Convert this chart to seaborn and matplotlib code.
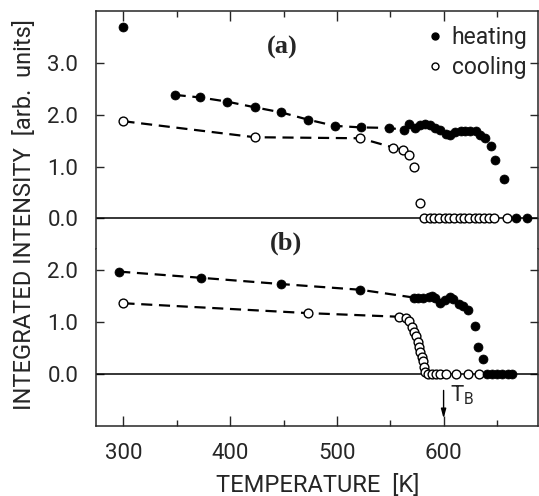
import matplotlib
matplotlib.use("Agg")
import matplotlib.pyplot as plt
from matplotlib.lines import Line2D
import seaborn as sns

# ---------------- data ----------------
# panel (a)
a_heat_T = [300, 348, 372, 397, 423, 448, 473, 498, 523, 549, 563, 568, 573, 578, 583,
            587, 592, 597, 602, 606, 611, 616, 620, 625, 630, 634, 639, 644, 648, 657, 668, 678]
a_heat_I = [3.70, 2.39, 2.34, 2.26, 2.15, 2.05, 1.91, 1.79, 1.76, 1.75, 1.71, 1.82, 1.75, 1.81, 1.82,
            1.80, 1.75, 1.71, 1.64, 1.61, 1.68, 1.70, 1.70, 1.70, 1.70, 1.62, 1.55, 1.40, 1.13, 0.76, 0.0, 0.0]
a_heat_line_T = [348, 372, 397, 423, 448, 473, 498, 523, 549, 563]
a_heat_line_I = [2.39, 2.34, 2.26, 2.15, 2.05, 1.91, 1.79, 1.76, 1.75, 1.71]

a_cool_T = [300, 423, 522, 553, 562, 568, 572, 578, 582, 587, 591, 596, 601, 605, 610,
            615, 619, 624, 629, 633, 638, 643, 647, 659]
a_cool_I = [1.88, 1.57, 1.55, 1.37, 1.32, 1.22, 1.00, 0.29, 0, 0, 0, 0, 0, 0, 0,
            0, 0, 0, 0, 0, 0, 0, 0, 0]
a_cool_line_T = [300, 423, 522, 553, 562]
a_cool_line_I = [1.88, 1.57, 1.55, 1.37, 1.32]

# panel (b)
b_heat_T = [296, 373, 448, 522, 572, 576, 581, 586, 589, 592, 597, 601, 606, 609, 614, 618,
            623, 629, 632, 637, 641, 645, 650, 655, 660, 664]
b_heat_I = [1.97, 1.85, 1.73, 1.62, 1.47, 1.47, 1.46, 1.49, 1.50, 1.46, 1.37, 1.42, 1.49, 1.44, 1.35, 1.31,
            1.23, 0.92, 0.51, 0.29, 0, 0, 0, 0, 0, 0]
b_heat_line_T = [296, 373, 448, 522, 572]
b_heat_line_I = [1.97, 1.85, 1.73, 1.62, 1.47]

b_cool_T = [300, 473, 558, 565, 568, 570, 572, 574, 576, 577, 578, 580, 581, 582, 583,
            585, 589, 593, 597, 602, 612, 623, 633]
b_cool_I = [1.36, 1.17, 1.10, 1.07, 1.01, 0.91, 0.81, 0.72, 0.62, 0.52, 0.43, 0.33, 0.24, 0.14, 0.04,
            0, 0, 0, 0, 0, 0, 0, 0]
b_cool_line_T = [300, 473, 558]
b_cool_line_I = [1.36, 1.17, 1.10]

x_ticks = [300, 400, 500, 600]
x_minor = [350, 450, 550, 650]
a_yticks = [0.0, 1.0, 2.0, 3.0]
b_yticks = [0.0, 1.0, 2.0]

# ---------------- style ----------------
sns.set_style("ticks")
plt.rcParams["font.family"] = ["Roboto", "DejaVu Sans"]
plt.rcParams["axes.linewidth"] = 1.1

fig = plt.figure(figsize=(5.39, 4.96), dpi=100)
W, H = 539.0, 496.0
left = 95.7 / W
width = (537.5 - 95.7) / W
split = 1 - 249.3 / H
top = 1 - 10.7 / H
bottom = 1 - 425.7 / H

ax_a = fig.add_axes([left, split, width, top - split])
ax_b = fig.add_axes([left, bottom, width, split - bottom])

XLIM = (274, 688)
dash = (0, (5.0, 3.0))


def draw(ax, hT, hI, hlT, hlI, cT, cI, clT, clI):
    sns.lineplot(x=hlT, y=hlI, ax=ax, color="k", lw=1.6, linestyle=dash, sort=False, zorder=2)
    sns.lineplot(x=clT, y=clI, ax=ax, color="k", lw=1.6, linestyle=dash, sort=False, zorder=2)
    ax.axhline(0, color="k", lw=1.1, zorder=1)
    sns.scatterplot(x=cT, y=cI, ax=ax, s=40, color="white", edgecolor="k", linewidth=1.0, zorder=3)
    sns.scatterplot(x=hT, y=hI, ax=ax, s=42, color="k", edgecolor="k", linewidth=0.5, zorder=4)
    ax.set_xlim(*XLIM)
    ax.set_xlabel("")
    ax.set_ylabel("")


draw(ax_a, a_heat_T, a_heat_I, a_heat_line_T, a_heat_line_I,
     a_cool_T, a_cool_I, a_cool_line_T, a_cool_line_I)
draw(ax_b, b_heat_T, b_heat_I, b_heat_line_T, b_heat_line_I,
     b_cool_T, b_cool_I, b_cool_line_T, b_cool_line_I)

ax_a.set_ylim(-0.6, 4.02)
ax_b.set_ylim(-1.0, 2.4)

for ax, yt in ((ax_a, a_yticks), (ax_b, b_yticks)):
    ax.set_xticks(x_ticks)
    ax.set_xticks(x_minor, minor=True)
    ax.set_yticks(yt)
    ax.set_yticklabels([f"{v:.1f}" for v in yt])
    ax.tick_params(axis="y", which="major", direction="in", left=True, right=True,
                   length=5.5, width=1.0, labelsize=16, pad=12.5)
    ax.tick_params(axis="x", which="major", direction="in", length=7, width=1.0,
                   labelsize=16, pad=12.5)
    ax.tick_params(axis="x", which="minor", direction="in", length=4, width=1.0)

ax_a.spines["bottom"].set_visible(False)
ax_a.tick_params(axis="x", which="both", top=True, bottom=False, labelbottom=False)
ax_b.spines["top"].set_visible(False)
ax_b.tick_params(axis="x", which="both", top=False, bottom=True, labelbottom=True)

# panel labels
ax_a.text(449, 3.31, "(a)", ha="center", va="center", fontsize=19,
          family="Liberation Serif", fontweight="bold")
ax_b.text(452, 2.52, "(b)", ha="center", va="center", fontsize=19,
          family="Liberation Serif", fontweight="bold")

# T_B marker
ax_b.annotate("", xy=(600, -0.86), xytext=(600, -0.32),
              arrowprops=dict(arrowstyle="-|>,head_length=0.55,head_width=0.15", color="k",
                              lw=1.0, shrinkA=0, shrinkB=0))
ax_b.text(606, -0.42, r"T$_\mathregular{B}$", ha="left", va="center", fontsize=16)

# legend
handles = [Line2D([], [], marker="o", ls="", color="k", markersize=5),
           Line2D([], [], marker="o", ls="", markerfacecolor="white", markeredgecolor="k",
                  markersize=5, markeredgewidth=1.0)]
ax_a.legend(handles, ["heating", "cooling"], loc="upper right", frameon=False,
            fontsize=16.5, handlelength=0.6, handletextpad=0.45, labelspacing=0.3,
            borderaxespad=0.0, bbox_to_anchor=(0.998, 0.975))

# axis labels
fig.text(25 / W, 1 - 215 / H, "INTEGRATED INTENSITY  [arb.  units]", rotation=90,
         ha="center", va="center", fontsize=17)
fig.text(318 / W, 1 - 485 / H, "TEMPERATURE  [K]", ha="center", va="center", fontsize=17)

fig.savefig("out.png", dpi=100)
